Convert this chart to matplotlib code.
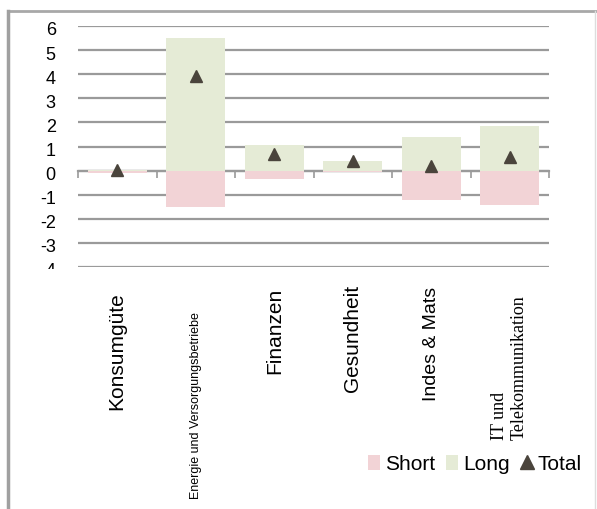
import matplotlib
matplotlib.use("Agg")
import matplotlib.pyplot as plt
from matplotlib.patches import Patch, Rectangle
from matplotlib.lines import Line2D
from matplotlib.transforms import ScaledTranslation
import numpy as np

categories = ['Konsumgüte', 'Energie und Versorgungsbetriebe', 'Finanzen',
              'Gesundheit', 'Indes & Mats', 'IT und\nTelekommunikation']
short_vals = [-0.08, -1.5, -0.33, -0.05, -1.24, -1.41]
long_vals = [0.01, 5.5, 1.08, 0.41, 1.41, 1.87]
total_vals = [0.02, 3.94, 0.7, 0.39, 0.19, 0.56]
yticks = [6, 5, 4, 3, 2, 1, 0, -1, -2, -3, -4]

# per-label style: (fontsize, family, top position in axes fraction)
label_styles = [
    (15, 'Liberation Sans', -0.10),
    (9, 'Liberation Sans', -0.183),
    (15, 'Liberation Sans', -0.08),
    (15, 'Liberation Sans', -0.07),
    (14, 'Liberation Sans', -0.08),
    (13, 'Liberation Serif', -0.112),
]

plt.rcParams['font.family'] = ['Liberation Sans', 'DejaVu Sans']

W, H = 597, 510
fig = plt.figure(figsize=(W / 100, H / 100), dpi=100)
ax = fig.add_axes([78 / W, 1 - 268 / H, (549 - 78) / W, (268 - 27) / H])

pink = '#f2d3d6'
green = '#e5ebd6'
tri = '#4a443c'
grid_c = '#9a9a9a'

x = np.arange(len(categories))
ax.bar(x, long_vals, width=0.75, color=green, zorder=2)
ax.bar(x, short_vals, width=0.75, color=pink, zorder=2)
ax.plot(x, total_vals, linestyle='none', marker='^', markersize=9,
        color=tri, zorder=3)

ax.set_xlim(-0.5, len(categories) - 0.5)
ax.set_ylim(-4, 6)
ax.set_yticks(yticks)
ax.set_yticklabels([str(v) for v in yticks], fontsize=13)
ax.tick_params(axis='y', length=0, pad=16)
for lab in ax.get_yticklabels():
    lab.set_transform(lab.get_transform() +
                      ScaledTranslation(0, -2 / 100, fig.dpi_scale_trans))
ax.yaxis.grid(True, color=grid_c, linewidth=1.6, zorder=0)
ax.set_axisbelow(True)

for s in ['top', 'right', 'left']:
    ax.spines[s].set_visible(False)
ax.spines['bottom'].set_position(('data', 0))
ax.spines['bottom'].set_color(grid_c)
ax.spines['bottom'].set_linewidth(1.6)
ax.spines['bottom'].set_zorder(1)
ax.set_xticks(np.arange(len(categories) + 1) - 0.5)
ax.set_xticklabels([])
ax.tick_params(axis='x', length=5, width=1.2, color=grid_c, direction='out')

tr = ax.get_xaxis_transform()
for i, (lab, (fs, fam, ytop)) in enumerate(zip(categories, label_styles)):
    ax.text(i, ytop, lab, transform=tr, rotation=90, ha='center', va='top',
            fontsize=fs, family=fam, multialignment='left', clip_on=False)

handles = [Patch(facecolor=pink, edgecolor='none', label='Short'),
           Patch(facecolor=green, edgecolor='none', label='Long'),
           Line2D([], [], linestyle='none', marker='^', markersize=10,
                  color=tri, label='Total')]
fig.legend(handles=handles, loc='center right', ncol=3, frameon=False,
           bbox_to_anchor=(582 / W, 1 - 465 / H), fontsize=15,
           handlelength=0.55, handleheight=0.75, handletextpad=0.25,
           columnspacing=0.55, borderaxespad=0, borderpad=0)

# cover the lower part of the "-4" label as in the reference
fig.add_artist(Rectangle((20 / W, 0.0), 50 / W, 1 - 270 / H,
                         transform=fig.transFigure, facecolor='white',
                         edgecolor='none', zorder=5))

# outer frame
fig.add_artist(Line2D([8 / W, 1.0], [1 - 12 / H, 1 - 12 / H],
                      transform=fig.transFigure, color='#a8a8a8', lw=2))
fig.add_artist(Line2D([8 / W, 8 / W], [0, 1 - 12 / H],
                      transform=fig.transFigure, color='#a0a0a0', lw=2.5))
fig.add_artist(Line2D([595 / W, 595 / W], [0, 1 - 12 / H],
                      transform=fig.transFigure, color='#dddddd', lw=1))

fig.savefig('out.png', dpi=100)
